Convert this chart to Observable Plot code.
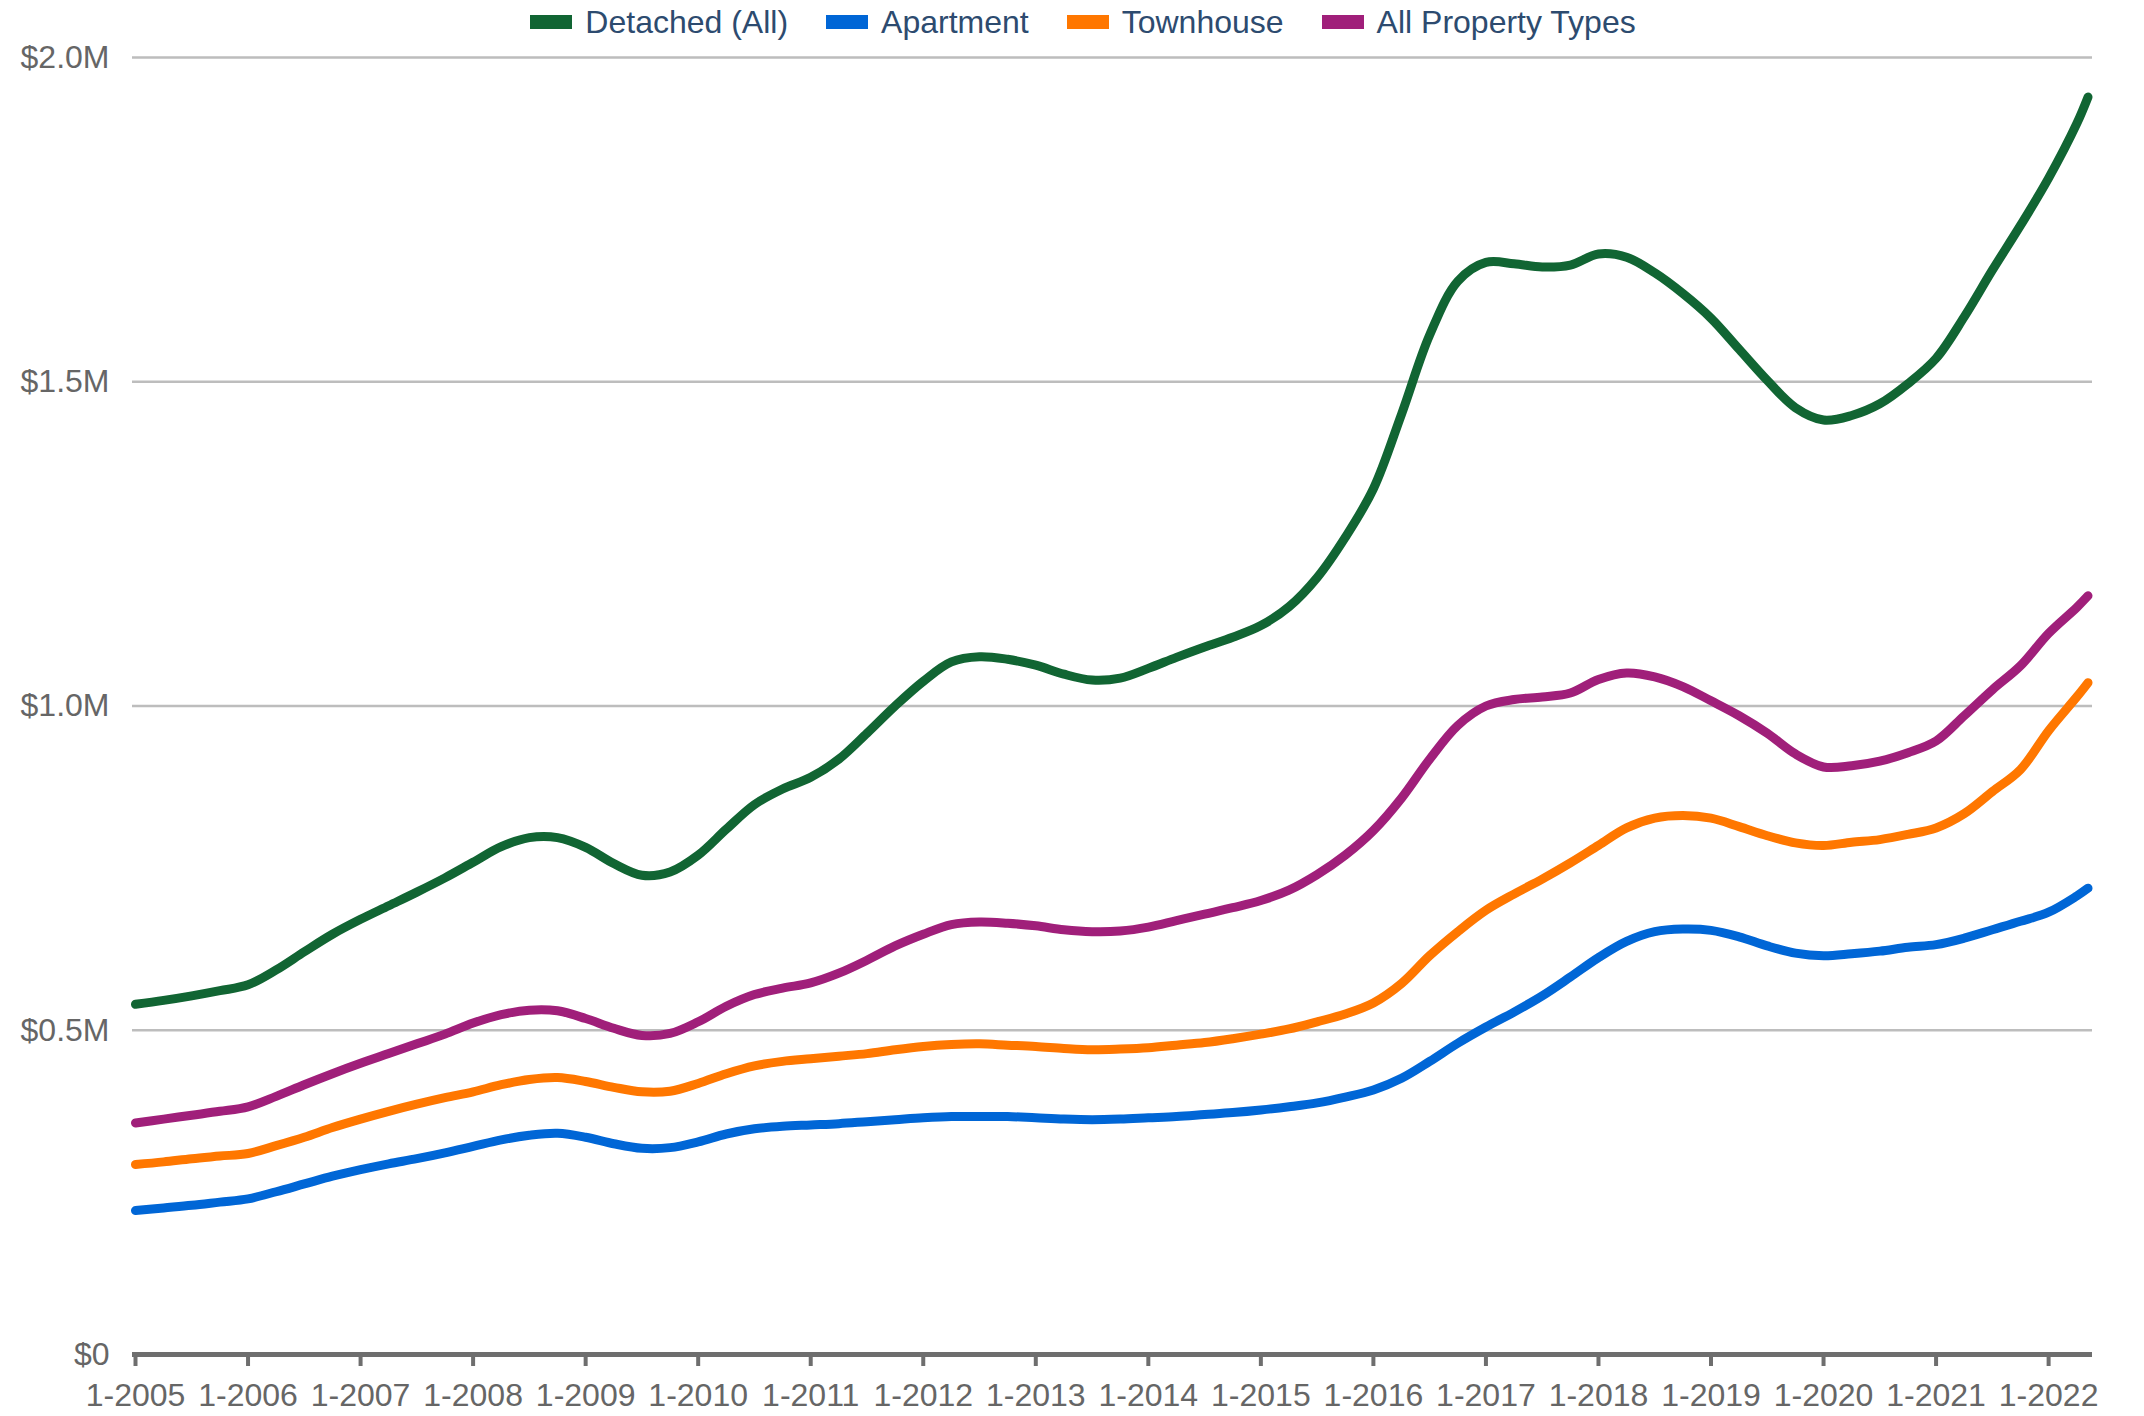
<!DOCTYPE html>
<html><head><meta charset="utf-8">
<script src="https://cdn.jsdelivr.net/npm/d3@7"></script>
<script src="https://cdn.jsdelivr.net/npm/@observablehq/plot@0.6"></script>
<style>
body{margin:0;background:#fff;font-family:"Liberation Sans",Arial,sans-serif;}
#legend{height:42px;display:flex;justify-content:center;align-items:center;padding-left:22px;padding-top:2px;box-sizing:border-box;width:2144px;}
.item{display:flex;align-items:center;margin:0 19px;font-size:32px;color:#2d4b6f;}
.sw{width:42px;height:14px;margin-right:13px;}
#chart svg{display:block;overflow:visible;}
</style></head>
<body>
<div id="legend"></div>
<div id="chart"></div>
<script>
const seriesNames = ["Detached (All)", "Apartment", "Townhouse", "All Property Types"];
const seriesColors = ["#116533", "#0066d6", "#ff7700", "#a01f7a"];
const yTicks = [0, 500000, 1000000, 1500000, 2000000];
const xTicks = [2005,2006,2007,2008,2009,2010,2011,2012,2013,2014,2015,2016,2017,2018,2019,2020,2021,2022];

const times = [
 2005.00,2005.25,2005.50,2005.75, 2006.00,2006.25,2006.50,2006.75,
 2007.00,2007.25,2007.50,2007.75, 2008.00,2008.25,2008.50,2008.75,
 2009.00,2009.25,2009.50,2009.75, 2010.00,2010.25,2010.50,2010.75,
 2011.00,2011.25,2011.50,2011.75, 2012.00,2012.25,2012.50,2012.75,
 2013.00,2013.25,2013.50,2013.75, 2014.00,2014.25,2014.50,2014.75,
 2015.00,2015.25,2015.50,2015.75, 2016.00,2016.25,2016.50,2016.75,
 2017.00,2017.25,2017.50,2017.75, 2018.00,2018.25,2018.50,2018.75,
 2019.00,2019.25,2019.50,2019.75, 2020.00,2020.25,2020.50,2020.75,
 2021.00,2021.25,2021.50,2021.75, 2022.00,2022.25,2022.35];

// values in thousands of dollars
const detached = [
 540,546,553,561, 570,593,621,648,
 671,692,713,735, 759,783,797,797,
 782,757,739,744, 770,810,848,872,
 890,918,958,1000, 1038,1068,1076,1072,
 1063,1049,1040,1043, 1058,1075,1091,1106,
 1124,1153,1198,1260, 1335,1450,1572,1655,
 1684,1682,1677,1680, 1697,1692,1668,1636,
 1598,1550,1502,1460, 1441,1448,1466,1497,
 1536,1600,1672,1741, 1814,1898,1939];
const apartment = [
 222,226,230,235, 240,251,263,275,
 285,294,302,311, 321,331,338,341,
 335,325,318,319, 328,340,348,352,
 354,356,359,362, 365,367,367,367,
 365,363,362,363, 365,367,370,373,
 377,382,388,397, 408,426,452,480,
 505,528,553,582, 612,637,652,656,
 654,644,630,619, 615,618,622,628,
 632,642,655,668, 682,707,719];
const townhouse = [
 293,297,302,306, 310,322,335,350,
 363,375,386,396, 405,416,424,427,
 421,412,405,406, 418,433,445,452,
 456,460,464,470, 475,478,479,477,
 475,472,470,471, 473,477,481,487,
 494,502,513,525, 542,572,615,652,
 685,710,733,758, 785,812,827,831,
 827,814,800,789, 785,790,794,802,
 812,834,868,902, 962,1014,1036];
const allTypes = [
 357,363,369,375, 382,398,416,433,
 449,464,479,494, 511,524,531,530,
 518,503,492,495, 513,537,555,565,
 573,588,608,630, 648,663,667,665,
 661,655,652,653, 659,669,679,689,
 700,716,740,770, 808,858,918,970,
 1000,1010,1014,1020, 1041,1051,1045,1030,
 1008,985,958,926, 906,908,915,928,
 946,985,1025,1062, 1112,1152,1170];

const seriesValues = [detached, apartment, townhouse, allTypes];

// legend
const legend = document.getElementById("legend");
seriesNames.forEach((n, i) => {
  const it = document.createElement("div"); it.className = "item";
  const sw = document.createElement("div"); sw.className = "sw"; sw.style.background = seriesColors[i];
  const tx = document.createElement("span"); tx.textContent = n;
  it.appendChild(sw); it.appendChild(tx); legend.appendChild(it);
});

const lineMarks = seriesValues.map((vals, i) =>
  Plot.line(times.map((t, j) => ({t, v: vals[j] * 1000})), {
    x: "t", y: "v", stroke: seriesColors[i], strokeWidth: 9,
    curve: "catmull-rom", strokeLinecap: "round", strokeLinejoin: "round"
  })
);

const chart = Plot.plot({
  width: 2144,
  height: 1374,
  marginTop: 15,
  marginBottom: 62,
  marginLeft: 135,
  marginRight: 52,
  style: {fontFamily: '"Liberation Sans", Arial, sans-serif', background: "#fff", overflow: "visible"},
  x: {domain: [2005, 2022.39]},
  y: {domain: [0, 2000000]},
  marks: [
    Plot.ruleY(yTicks.filter(d => d > 0), {stroke: "#bdbdbd", strokeWidth: 2.5, insetLeft: -3}),
    Plot.axisY({ticks: yTicks, tickFormat: d => d === 0 ? "$0" : `$${(d / 1e6).toFixed(1)}M`,
      tickSize: 0, tickPadding: 26, fontSize: 32, fill: "#666", label: null}),
    Plot.axisX({ticks: xTicks, tickFormat: d => `1-${d}`, tickSize: 12, tickPadding: 17,
      fontSize: 32, fill: "#666", stroke: "#6e6e6e", strokeWidth: 4, label: null}),
    ...lineMarks,
    Plot.ruleY([0], {stroke: "#6e6e6e", strokeWidth: 5, insetLeft: -3})
  ]
});
document.getElementById("chart").appendChild(chart);
</script>
</body></html>
